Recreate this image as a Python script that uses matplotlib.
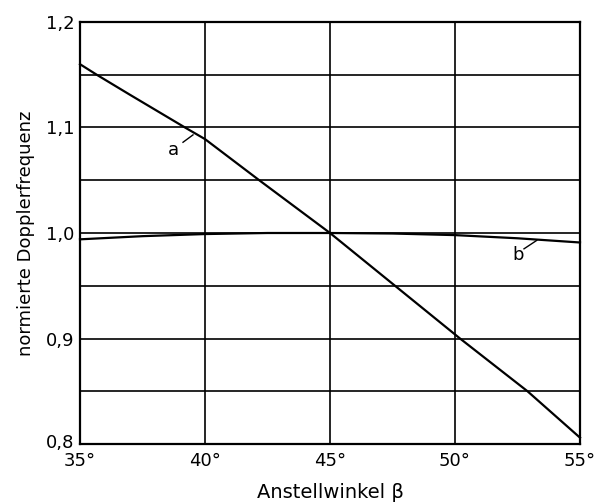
import matplotlib
matplotlib.use("Agg")
import matplotlib.pyplot as plt
from matplotlib.transforms import offset_copy
import numpy as np

# Data
beta_a = [35.0, 35.67, 37.0, 39.2, 40.0, 42.17, 45.0, 47.6, 50.2, 52.9, 55.0]
freq_a = [1.160, 1.150, 1.131, 1.100, 1.089, 1.050, 1.000, 0.950, 0.900, 0.850, 0.806]

beta_b = [35.0, 37.5, 40.0, 42.5, 45.0, 47.5, 50.0, 52.5, 55.0]
freq_b = [0.994, 0.997, 0.999, 1.000, 1.000, 0.9995, 0.998, 0.995, 0.991]

x_ticks = [35, 40, 45, 50, 55]
x_tick_labels = ["35°", "40°", "45°", "50°", "55°"]
y_ticks = [0.8, 0.9, 1.0, 1.1, 1.2]
y_tick_labels = ["0,8", "0,9", "1,0", "1,1", "1,2"]
y_grid = [0.85, 0.95, 1.05, 1.15]

plt.rcParams['font.family'] = ['DejaVu Sans']

fig = plt.figure(figsize=(6.07, 5.04), dpi=100)
ax = fig.add_axes([80/607, 60/504, 500/607, 422/504])

ax.set_xlim(35, 55)
ax.set_ylim(0.8, 1.2)

lw_grid = 1.2
for x in x_ticks:
    ax.axvline(x, color='black', lw=lw_grid, zorder=1)
for y in y_ticks + y_grid:
    ax.axhline(y, color='black', lw=lw_grid, zorder=1)

ax.plot(beta_a, freq_a, color='black', lw=1.6, zorder=3, clip_on=False,
        solid_joinstyle='round')
ax.plot(beta_b, freq_b, color='black', lw=1.6, zorder=3, clip_on=False,
        solid_joinstyle='round')

# curve labels with leader lines
ax.text(38.73, 1.079, "a", fontsize=13, ha='center', va='center')
ax.plot([39.12, 39.52], [1.086, 1.093], color='black', lw=1.0)
ax.text(52.53, 0.979, "b", fontsize=13, ha='center', va='center')
ax.plot([52.76, 53.27], [0.985, 0.993], color='black', lw=1.0)

ax.set_xticks(x_ticks)
ax.set_xticklabels(x_tick_labels, fontsize=13)
ax.set_yticks(y_ticks)
ax.set_yticklabels(y_tick_labels, fontsize=13)
ax.tick_params(axis='y', length=0, pad=4)
ax.tick_params(axis='x', length=0, pad=6)
# lift the lowest y label a little, as in the reference
lbl = ax.get_yticklabels()[0]
lbl.set_transform(offset_copy(lbl.get_transform(), fig=fig, x=0, y=3, units='dots'))

for s in ax.spines.values():
    s.set_linewidth(1.6)
    s.set_color('black')

ax.set_xlabel("Anstellwinkel β", fontsize=14, labelpad=9)
ax.set_ylabel("normierte Dopplerfrequenz", fontsize=13, labelpad=8)

fig.savefig("out.png", dpi=100)
